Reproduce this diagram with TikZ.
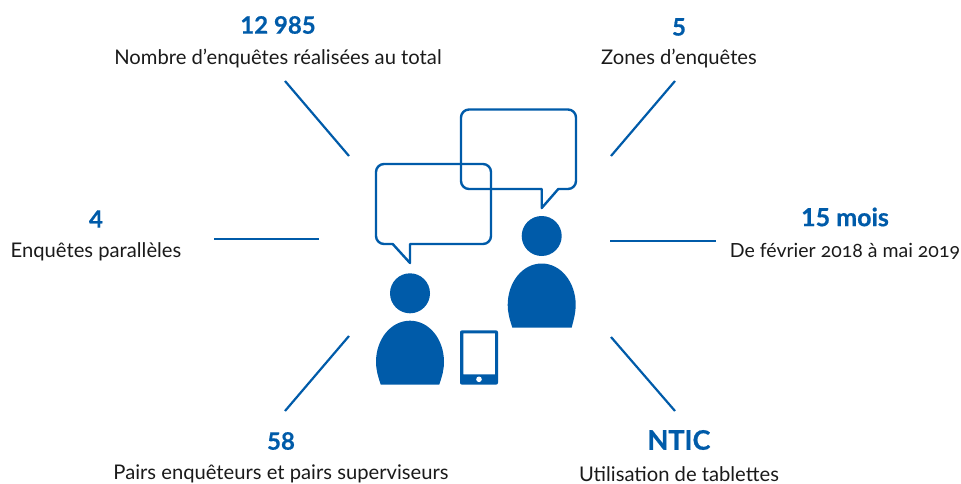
\documentclass[tikz,border=0pt]{standalone}
\usepackage{fontspec}
\setmainfont{Lato}
\newfontfamily\oldnum[Numbers=OldStyle]{Lato}
\definecolor{brandblue}{HTML}{005BA9}
\definecolor{textblack}{HTML}{1A1A1A}
\tikzset{
  figure/.style={font=\fontsize{24}{26}\selectfont\bfseries\addfontfeature{FakeBold=0.5}, text=brandblue, inner sep=0pt, anchor=center},
  caption/.style={font=\fontsize{20.2}{22}\selectfont, text=textblack, inner sep=0pt, anchor=center},
  ray/.style={draw=brandblue, line width=2.2pt},
  bubble/.style={draw=brandblue, line width=2.4pt, line join=round},
  solidblue/.style={fill=brandblue, draw=none}
}
\begin{document}
\begin{tikzpicture}[x=1pt,y=-1pt]
\useasboundingbox (0,0) rectangle (961,484);
% labels
\node[figure] (n1) at (278,25) {12 985};
\node[caption] (c1) at (278,59) {Nombre d’enquêtes réalisées au total};
\node[figure] (n2) at (679,27) {5};
\node[caption] (c2) at (679,59) {Zones d’enquêtes};
\node[figure,font=\fontsize{25}{28}\selectfont\bfseries\addfontfeature{FakeBold=0.5}] (n3) at (845,217) {15 mois};
\node[caption,font=\fontsize{19.5}{22}\selectfont] (c3) at (845,251) {De février {\oldnum 2018} à mai {\oldnum 2019}};
\node[figure] (n4) at (96,219) {4};
\node[caption] (c4) at (96,252) {Enquêtes parallèles};
\node[figure] (n5) at (281,441) {58};
\node[caption] (c5) at (281,474) {Pairs enquêteurs et pairs superviseurs};
\node[figure,font=\fontsize{27}{30}\selectfont\bfseries\addfontfeature{FakeBold=0.5}] (n6) at (679,440) {NTIC};
\node[caption] (c6) at (679,474) {Utilisation de tablettes};
% rays
\coordinate (r1a) at (285,81);  \coordinate (r1b) at (349,156);
\coordinate (r2a) at (675,81);  \coordinate (r2b) at (611,156);
\coordinate (r3a) at (214,239); \coordinate (r3b) at (319,239);
\coordinate (r4a) at (610,241); \coordinate (r4b) at (716,241);
\coordinate (r5a) at (349,336); \coordinate (r5b) at (285,411);
\coordinate (r6a) at (611,337); \coordinate (r6b) at (675,411);
\draw[ray] (r1a) -- (r1b);
\draw[ray] (r2a) -- (r2b);
\draw[ray] (r3a) -- (r3b);
\draw[ray] (r4a) -- (r4b);
\draw[ray] (r5a) -- (r5b);
\draw[ray] (r6a) -- (r6b);
% speech bubbles
\draw[bubble] (384,164) -- (483,164) arc[start angle=90,end angle=0,x radius=8,y radius=-8]
  -- (491,236) arc[start angle=0,end angle=-90,x radius=8,y radius=-8]
  -- (410,244) -- (410,263) -- (392.7,244) -- (384,244)
  arc[start angle=-90,end angle=-180,x radius=8,y radius=-8]
  -- (376,172) arc[start angle=180,end angle=90,x radius=8,y radius=-8] -- cycle;
\draw[bubble] (469,109.5) -- (568,109.5) arc[start angle=90,end angle=0,x radius=8,y radius=-8]
  -- (576,181) arc[start angle=0,end angle=-90,x radius=8,y radius=-8]
  -- (558.3,189) -- (541.7,208) -- (541.7,189) -- (469,189)
  arc[start angle=-90,end angle=-180,x radius=8,y radius=-8]
  -- (461,117.5) arc[start angle=180,end angle=90,x radius=8,y radius=-8] -- cycle;
% persons
\fill[solidblue] (410,293.3) circle[radius=20];
\fill[solidblue] (380.7,384.5) .. controls (377.5,375) and (376,369) .. (376,362)
  .. controls (376,339) and (391,320.7) .. (410,320.7)
  .. controls (429,320.7) and (444,339) .. (444,362)
  .. controls (444,369) and (442.5,375) .. (439.3,384.5) -- cycle;
\fill[solidblue] (541.7,236) circle[radius=20];
\fill[solidblue] (512.3,327.5) .. controls (509.2,318) and (507.7,312) .. (507.7,305)
  .. controls (507.7,282) and (522.7,263.5) .. (541.7,263.5)
  .. controls (560.7,263.5) and (575.7,282) .. (575.7,305)
  .. controls (575.7,312) and (574.2,318) .. (571.7,327.5) -- cycle;
% tablet
\fill[solidblue, rounded corners=2pt, even odd rule] (460,330.3) rectangle (498,384.7)
  [sharp corners] (463.3,333.3) rectangle (495,374.3);
\fill[white] (479,379.3) circle[radius=2.8];
\end{tikzpicture}
\end{document}
